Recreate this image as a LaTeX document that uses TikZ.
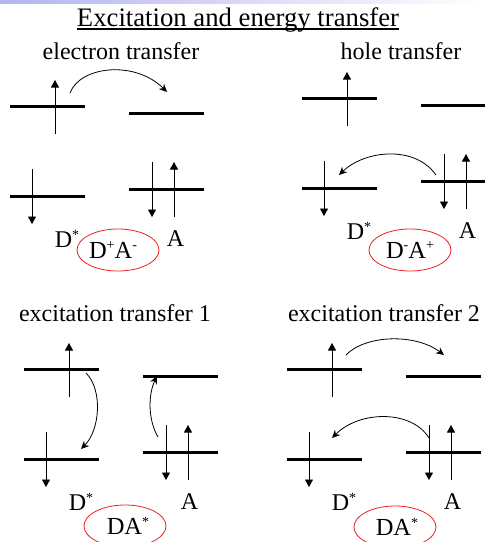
\documentclass[tikz,border=0pt]{standalone}
\usepackage{fontspec}
\setmainfont{Liberation Serif}
\usetikzlibrary{arrows.meta,shapes.geometric}
\definecolor{bandBlue}{HTML}{B4B4F0}
\definecolor{ringRed}{HTML}{EE2222}
\newcommand{\upmark}[1]{\raisebox{0.36em}{\fontsize{14}{14}\selectfont #1}}
\newcommand{\starD}{D\upmark{*}}

\begin{document}
\begin{tikzpicture}[x=1pt,y=-1pt,
  level/.style={fill=black,inner sep=0pt,minimum width=75pt,minimum height=3pt},
  spin/.style={line width=0.9pt,-{Triangle[length=7.5pt,width=8pt]}},
  hop/.style={line width=0.8pt,-{Stealth[length=8pt,width=7.5pt]}},
  ring/.style={ellipse,draw=ringRed,line width=0.8pt,inner sep=0pt,minimum width=82pt,minimum height=42pt,font=\fontsize{24.5}{24}\selectfont},
  head/.style={font=\fontsize{24}{26}\selectfont},
  word/.style={font=\fontsize{24}{24}\selectfont}]
  \useasboundingbox (0,0) rectangle (485,542);
  \shade[left color=bandBlue,right color=white] (0,0) rectangle (485,3);
  % title
  \node[inner sep=0pt,font=\fontsize{26.7}{28}\selectfont] (title) at (238,19.5) {Excitation and energy transfer};
  \draw[line width=1.6pt] ([yshift=-3pt]title.base west) -- ([yshift=-3pt]title.base east);
  % the four panels
  \foreach \p/\sx/\sy/\tx/\ty/\rx/\ry/\ttl/\txt in {
    a/0/0/121/51/118/250/{electron transfer}/{\kern-10pt D\upmark{+}A\upmark{-}},
    b/292/-8/401/51/410/250/{hole transfer}/{D\upmark{-}A\upmark{+}},
    c/14/263/115/313/125/526/{excitation transfer 1}/{\kern6pt DA\upmark{*}},
    d/277/263/384/313/395/527/{excitation transfer 2}/{\kern4pt DA\upmark{*}}} {
    \node[head] (head\p) at (\tx,\ty) {\ttl};
    \node[ring] (ring\p) at (\rx,\ry) {\txt};
    \begin{scope}[shift={(\sx,\sy)}]
      \node[level] (du\p) at (47.5,106) {};
      \node[level] (dl\p) at (47.5,196) {};
      \node[level] (au\p) at (166.5,113) {};
      \node[level] (al\p) at (166.5,189) {};
      \coordinate (s1\p) at (55,134); \coordinate (e1\p) at (55,80);
      \coordinate (s2\p) at (32,169); \coordinate (e2\p) at (32,224);
      \coordinate (s3\p) at (152,162); \coordinate (e3\p) at (152,217);
      \coordinate (s4\p) at (174,217); \coordinate (e4\p) at (174,162);
      \foreach \k in {1,...,4} \draw[spin] (s\k\p) -- (e\k\p);
      \node[word] (dn\p) at (67,239) {\starD};
      \node[word] (an\p) at (175.5,239) {A};
    \end{scope}
  }
  % hops
  \coordinate (h1) at (70,93); \coordinate (h2) at (167,92);
  \draw[hop] (h1) .. controls (80,66) and (135,60) .. (h2);
  \coordinate (h3) at (436,175); \coordinate (h4) at (339,175);
  \draw[hop] (h3) .. controls (415,145) and (365,150) .. (h4);
  \coordinate (h5) at (86,373); \coordinate (h6) at (81,449);
  \draw[hop] (h5) .. controls (103,390) and (100,430) .. (h6);
  \coordinate (h7) at (158,437); \coordinate (h8) at (157,376);
  \draw[hop] (h7) .. controls (148,420) and (148,395) .. (h8);
  \coordinate (h9) at (346,355); \coordinate (h10) at (444,355);
  \draw[hop] (h9) .. controls (365,335) and (415,333) .. (h10);
  \coordinate (h11) at (429,438); \coordinate (h12) at (332,438);
  \draw[hop] (h11) .. controls (412,410) and (360,410) .. (h12);
\end{tikzpicture}
\end{document}
